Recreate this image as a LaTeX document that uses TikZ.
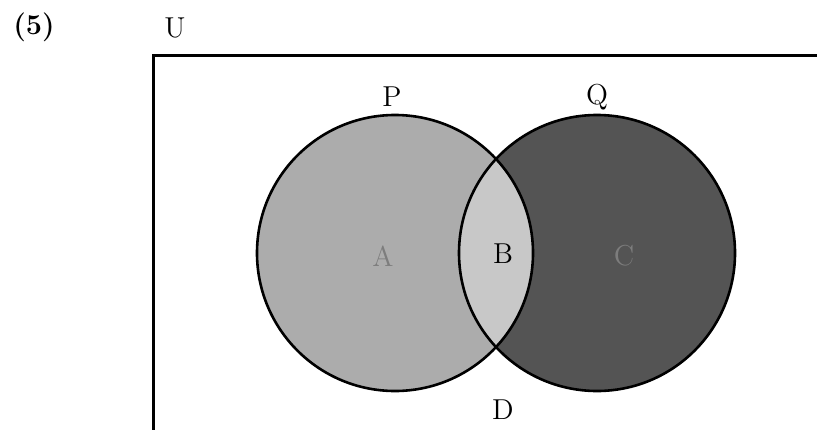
\documentclass[tikz,border=0pt]{standalone}
\usepackage{xcolor}
\usepackage{tikz}
\usetikzlibrary{positioning}
\definecolor{setp}{RGB}{172,172,172}
\definecolor{setq}{RGB}{84,84,84}
\definecolor{setpq}{RGB}{200,200,200}
\definecolor{lblgray}{RGB}{125,125,125}

\begin{document}
\begin{tikzpicture}[
        x=0.5pt, y=-0.5pt,
        lbl/.style={font=\Large, inner sep=0pt},
        ring/.style={draw=black, line width=1.3pt},
      ]
      \useasboundingbox (0,0) rectangle (817,429);
      \clip (0,0) rectangle (817,429);
      \coordinate (pc) at (395,253);
      \coordinate (qc) at (597,253);
      % universe frame, runs off the page
      \draw[line width=1.5pt] (153,450) |- (840,55);
      % shaded sets
      \fill[setp] (pc) circle[radius=69pt];
      \fill[setq] (qc) circle[radius=69pt];
      \begin{scope}
        \clip (pc) circle[radius=69pt];
        \fill[setpq] (qc) circle[radius=69pt];
      \end{scope}
      \draw[ring] (pc) circle[radius=69pt];
      \draw[ring] (qc) circle[radius=69pt];
      \node[lbl, font=\Large\bfseries] (num) at (34,27) {(5)};
      \node[lbl] (univ) at (175,28) {U};
      \node[lbl] (setP) at (392,97) {P};
      \node[lbl] (setQ) at (597,97) {Q};
      \node[lbl, text=lblgray] (regA) at (383,256) {A};
      \node[lbl] (regB) at (503,254) {B};
      \node[lbl, text=lblgray] (regC) at (624,256) {C};
      \node[lbl] (regD) at (503,410) {D};
    \end{tikzpicture}
\end{document}
